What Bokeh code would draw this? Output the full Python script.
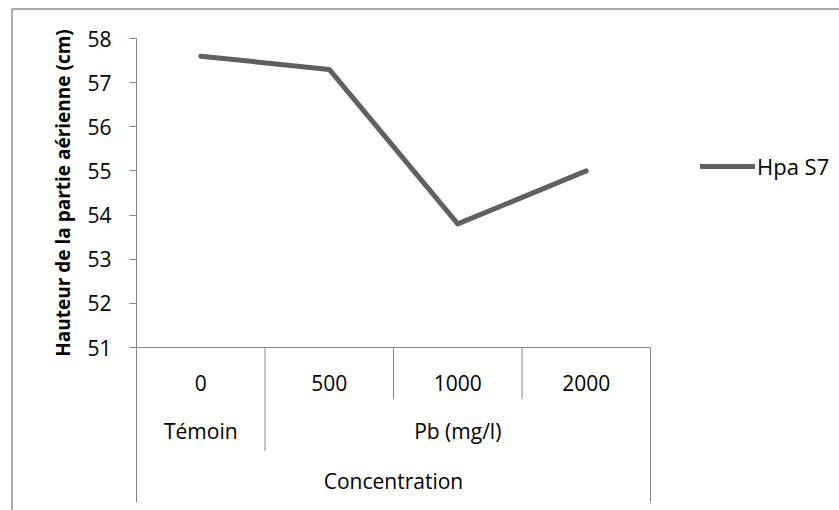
import numpy as np
from bokeh.plotting import figure
from bokeh.models import Range1d, LinearAxis, FixedTicker, Legend, LegendItem
from bokeh.core.properties import value
from bokeh.embed import file_html
from bokeh.resources import INLINE

# ---------------- data ----------------
concentrations = ["0", "500", "1000", "2000"]
groups = ["Témoin", "Pb (mg/l)", "Pb (mg/l)", "Pb (mg/l)"]
outer_label = "Concentration"
hpa_s7 = [57.6, 57.3, 53.8, 55.0]
y_ticks = [51, 52, 53, 54, 55, 56, 57, 58]
series_name = "Hpa S7"
y_title = "Hauteur de la partie aérienne (cm)"

# ---------------- layout (pixels) ----------------
W, H = 839, 510
PLOT_L, PLOT_R = 136, 650
PLOT_T, PLOT_B = 38, 347
ROW_H = 51.7
FONT = "Open Sans"
AXIS_COLOR = "#868686"
BORDER_COLOR = "#8f8f8f"
LINE_COLOR = "#606060"

n = len(concentrations)
ymin, ymax = min(y_ticks), max(y_ticks)
px_per_x = (PLOT_R - PLOT_L) / n
px_per_y = (PLOT_B - PLOT_T) / (ymax - ymin)
x_start = -PLOT_L / px_per_x
x_end = n + (W - PLOT_R) / px_per_x
y_start = ymin - (H - PLOT_B) / px_per_y
y_end = ymax + PLOT_T / px_per_y


def px_x(px):
    return x_start + px / px_per_x


def px_y(py):
    return y_end - py / px_per_y


p = figure(width=W, height=H, x_range=Range1d(x_start, x_end),
           y_range=Range1d(y_start, y_end), min_border=0,
           x_axis_type=None, y_axis_type=None, toolbar_location=None,
           output_backend="svg", outline_line_color=None,
           background_fill_color="white", border_fill_color="white")

# chart border (left + top visible)
p.line(x=[px_x(11.5), px_x(11.5), px_x(W + 5)],
       y=[px_y(H + 5), px_y(8.5), px_y(8.5)],
       line_color=BORDER_COLOR, line_width=1.5)

# y axis at category position 0
yaxis = LinearAxis(fixed_location=0, bounds=(ymin, ymax),
                   ticker=FixedTicker(ticks=y_ticks),
                   axis_line_color=AXIS_COLOR, major_tick_line_color=AXIS_COLOR,
                   major_tick_out=7, major_tick_in=0, minor_tick_line_color=None,
                   major_label_text_font=FONT, major_label_text_font_size="21px",
                   major_label_text_color="black", major_label_standoff=18,
                   axis_label=y_title, axis_label_text_font=FONT,
                   axis_label_text_font_size="19px",
                   axis_label_text_font_style="bold",
                   axis_label_text_color="black", axis_label_standoff=8)
p.add_layout(yaxis, "left")

# category axis line
cx = np.arange(n) + 0.5
p.segment(x0=[0], y0=[ymin], x1=[n], y1=[ymin], line_color=AXIS_COLOR, line_width=1)

# separators with depth by level
bounds = list(range(n + 1))
depths = []
for b in bounds:
    if b == 0 or b == n:
        depths.append(3)
    elif groups[b] != groups[b - 1]:
        depths.append(2)
    else:
        depths.append(1)
p.ray(x=bounds, y=[ymin] * len(bounds), length=[d * ROW_H for d in depths],
      angle=-np.pi / 2, length_units="screen", line_color=AXIS_COLOR, line_width=1)

# level 1 labels
p.text(x=cx, y=[ymin] * n, text=concentrations, y_offset=35,
       text_align="center", text_baseline="middle", text_font=value(FONT),
       text_font_size="21px", text_color="black")

# level 2 labels (grouped)
g_names, g_centers = [], []
i = 0
while i < n:
    j = i
    while j + 1 < n and groups[j + 1] == groups[i]:
        j += 1
    g_names.append(groups[i])
    g_centers.append((i + j + 1) / 2)
    i = j + 1
p.text(x=g_centers, y=[ymin] * len(g_names), text=g_names, y_offset=83,
       text_align="center", text_baseline="middle", text_font=value(FONT),
       text_font_size="21px", text_color="black")

# level 3 label
p.text(x=[n / 2], y=[ymin], text=[outer_label], y_offset=133,
       text_align="center", text_baseline="middle", text_font=value(FONT),
       text_font_size="21px", text_color="black")

# series
r = p.line(x=cx, y=hpa_s7, line_width=5, line_color=LINE_COLOR,
           line_cap="round", line_join="round")

legend = Legend(items=[LegendItem(label=series_name, renderers=[r])],
                location=(700, H - 181), glyph_width=55, glyph_height=30,
                label_height=30, label_standoff=2, padding=0, margin=0,
                border_line_color=None, background_fill_alpha=0,
                label_text_font=FONT, label_text_font_size="22px",
                label_text_color="black")
p.add_layout(legend)

open("out.html", "w").write(file_html(p, INLINE))
